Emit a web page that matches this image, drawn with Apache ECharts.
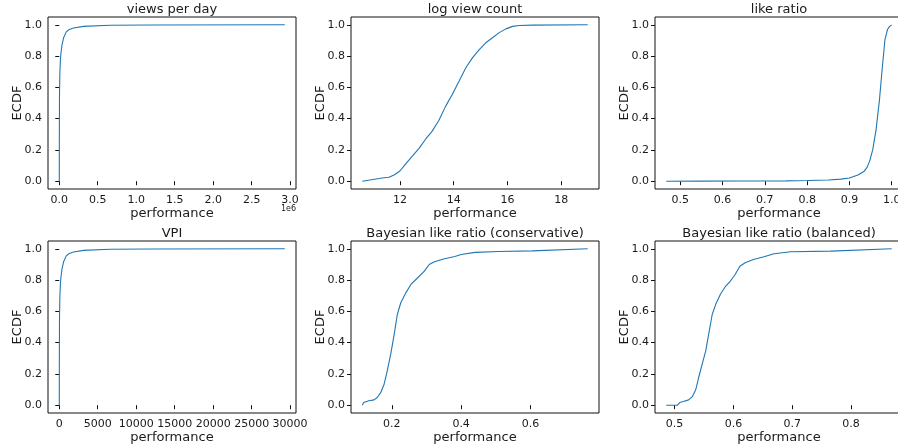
<!DOCTYPE html>
<html>
<head>
<meta charset="utf-8">
<script src="https://cdn.jsdelivr.net/npm/echarts@6/dist/echarts.min.js"></script>
<style>
html,body{margin:0;padding:0;background:#fff;overflow:hidden;width:898px;height:448px;}
#c{width:910px;height:448px;}
</style>
</head>
<body>
<div id="c"></div>
<script>
// ---- data ----
const titles = ['views per day', 'log view count', 'like ratio', 'VPI',
  'Bayesian like ratio (conservative)', 'Bayesian like ratio (balanced)'];

const vpdX = [0, 1000, 3000, 8000, 15000, 22000, 35000, 56000, 91000, 130000, 186000, 316000, 660000, 1200000, 2930000];
const vpdY = [0, 0.3, 0.55, 0.7, 0.78, 0.82, 0.87, 0.917, 0.955, 0.97, 0.98, 0.99, 0.997, 0.999, 1.0];

const lvcX = [10.6, 11.34, 11.59, 11.78, 12.0, 12.2, 12.46, 12.71, 12.96, 13.2, 13.45, 13.7, 13.95, 14.2, 14.45, 14.7, 14.94, 15.19, 15.44, 15.69, 15.94, 16.19, 16.43, 16.93, 18.98];
const lvcY = [0, 0.02, 0.025, 0.04, 0.065, 0.107, 0.16, 0.21, 0.27, 0.32, 0.39, 0.48, 0.556, 0.64, 0.725, 0.79, 0.84, 0.885, 0.917, 0.95, 0.974, 0.99, 0.996, 0.998, 1.0];

const lrX = [0.467, 0.55, 0.65, 0.75, 0.8, 0.85, 0.88, 0.9, 0.92, 0.935, 0.942, 0.948, 0.955, 0.963, 0.971, 0.978, 0.984, 0.99, 0.995, 1.0];
const lrY = [0, 0.0005, 0.001, 0.002, 0.004, 0.008, 0.013, 0.02, 0.04, 0.064, 0.09, 0.13, 0.2, 0.33, 0.52, 0.735, 0.906, 0.97, 0.99, 1.0];

const vpiX = [0, 10, 30, 80, 150, 220, 350, 560, 910, 1300, 1860, 3160, 6600, 12000, 29300];
const vpiY = [0, 0.3, 0.55, 0.7, 0.78, 0.82, 0.87, 0.917, 0.955, 0.97, 0.98, 0.99, 0.997, 0.999, 1.0];

const blcX = [0.115, 0.119, 0.134, 0.149, 0.158, 0.168, 0.178, 0.187, 0.197, 0.207, 0.216, 0.226, 0.241, 0.255, 0.275, 0.294, 0.308, 0.323, 0.352, 0.382, 0.4, 0.44, 0.508, 0.605, 0.765];
const blcY = [0, 0.017, 0.028, 0.034, 0.049, 0.08, 0.134, 0.219, 0.326, 0.453, 0.58, 0.655, 0.72, 0.772, 0.815, 0.857, 0.9, 0.917, 0.936, 0.951, 0.964, 0.977, 0.983, 0.987, 1.0];

const blbX = [0.486, 0.505, 0.509, 0.515, 0.524, 0.53, 0.536, 0.541, 0.547, 0.553, 0.558, 0.564, 0.57, 0.578, 0.587, 0.595, 0.603, 0.611, 0.62, 0.634, 0.652, 0.669, 0.697, 0.765, 0.869];
const blbY = [0, 0, 0.017, 0.023, 0.034, 0.053, 0.098, 0.177, 0.262, 0.347, 0.453, 0.58, 0.645, 0.709, 0.762, 0.794, 0.836, 0.889, 0.911, 0.932, 0.949, 0.968, 0.981, 0.985, 1.0];

const vpdTicks = [0, 500000, 1000000, 1500000, 2000000, 2500000, 3000000];
const lvcTicks = [12, 14, 16, 18];
const lrTicks = [0.5, 0.6, 0.7, 0.8, 0.9, 1.0];
const vpiTicks = [0, 5000, 10000, 15000, 20000, 25000, 30000];
const blcTicks = [0.2, 0.4, 0.6];
const blbTicks = [0.5, 0.6, 0.7, 0.8];
const yTicks = [0, 0.2, 0.4, 0.6, 0.8, 1.0];

// ---- build ----
const panels = [
  {x: vpdX, y: vpdY, ticks: vpdTicks, fmt: v => (v / 1e6).toFixed(1)},
  {x: lvcX, y: lvcY, ticks: lvcTicks, fmt: v => String(v)},
  {x: lrX, y: lrY, ticks: lrTicks, fmt: v => v.toFixed(1)},
  {x: vpiX, y: vpiY, ticks: vpiTicks, fmt: v => String(v)},
  {x: blcX, y: blcY, ticks: blcTicks, fmt: v => v.toFixed(1)},
  {x: blbX, y: blbY, ticks: blbTicks, fmt: v => v.toFixed(1)}
];

const CW = 910;
const colLeft = [48, 351, 655];
const rowTop = [17, 241];
const W = 248, H = 172;
const FONT = 'DejaVu Sans';
const TXT = '#1a1a1a';

const grid = [], xAxis = [], yAxis = [], series = [], title = [];
panels.forEach((p, i) => {
  const c = i % 3, r = Math.floor(i / 3);
  grid.push({left: colLeft[c], top: rowTop[r], width: W, height: H,
    show: true, borderColor: '#111', borderWidth: 1, backgroundColor: 'transparent'});
  const mn = Math.min(...p.x), mx = Math.max(...p.x), pad = (mx - mn) * 0.05;
  xAxis.push({type: 'value', gridIndex: i, min: mn - pad, max: mx + pad,
    splitLine: {show: false}, axisLine: {show: false},
    axisTick: {show: true, length: 4, lineStyle: {color: '#111', width: 1}, customValues: p.ticks},
    axisLabel: {customValues: p.ticks, formatter: p.fmt, fontFamily: FONT, fontSize: 11, color: TXT, margin: 6},
    name: 'performance', nameLocation: 'middle', nameGap: 18, nameMoveOverlap: false,
    nameTextStyle: {fontFamily: FONT, fontSize: 13, color: TXT}});
  yAxis.push({type: 'value', gridIndex: i, min: -0.05, max: 1.05,
    splitLine: {show: false}, axisLine: {show: false},
    axisTick: {show: true, length: 4, lineStyle: {color: '#111', width: 1}, customValues: yTicks},
    axisLabel: {customValues: yTicks, formatter: v => v.toFixed(1), fontFamily: FONT, fontSize: 11, color: TXT, margin: 6},
    name: 'ECDF', nameLocation: 'middle', nameGap: 24, nameMoveOverlap: false,
    nameTextStyle: {fontFamily: FONT, fontSize: 13, color: TXT}});
  series.push({type: 'line', xAxisIndex: i, yAxisIndex: i, showSymbol: false, symbol: 'none',
    lineStyle: {color: '#1f77b4', width: 1.1}, itemStyle: {color: '#1f77b4'},
    data: p.x.map((v, k) => [v, p.y[k]])});
  title.push({text: titles[i], left: colLeft[c] + W / 2, top: rowTop[r] - 14, textAlign: 'center', padding: 0,
    textStyle: {fontFamily: FONT, fontSize: 13, fontWeight: 'normal', color: TXT, lineHeight: 13}});
});

const chart = echarts.init(document.getElementById('c'), null, {renderer: 'canvas'});
chart.setOption({
  animation: false,
  backgroundColor: '#fff',
  title, grid, xAxis, yAxis, series,
  graphic: [{type: 'text', right: CW - (colLeft[0] + W), top: 205,
    style: {text: '1e6', fontFamily: FONT, fontSize: 8, fill: TXT}}]
});
</script>
</body>
</html>
